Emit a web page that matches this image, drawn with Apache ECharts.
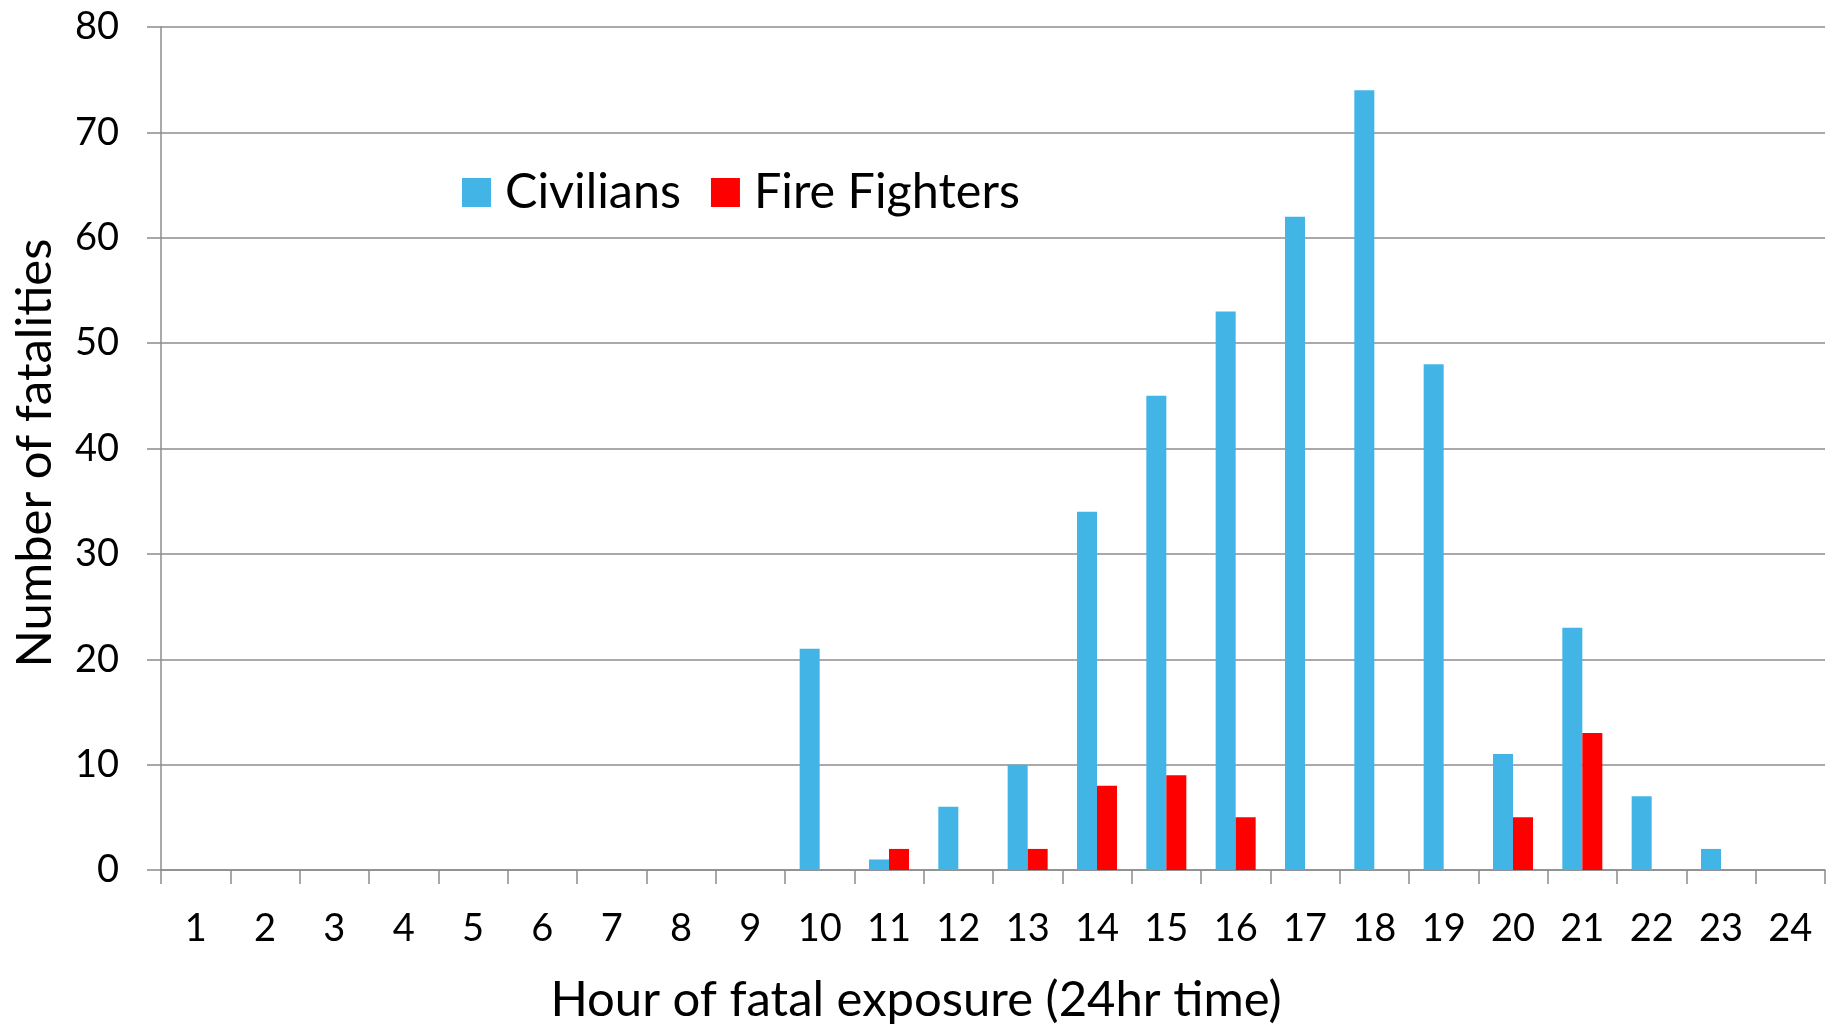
<!DOCTYPE html>
<html>
<head>
<meta charset="utf-8">
<script src="https://cdn.jsdelivr.net/npm/echarts@6/dist/echarts.min.js"></script>
<style>
    html, body { margin: 0; padding: 0; background: #ffffff; }
    #main { width: 1827px; height: 1028px; }
</style>
</head>
<body>
<div id="main"></div>
<script>
// hours 1..24
var hours = ['1', '2', '3', '4', '5', '6', '7', '8', '9', '10', '11', '12',
    '13', '14', '15', '16', '17', '18', '19', '20', '21', '22', '23', '24'];
var civilians = [0, 0, 0, 0, 0, 0, 0, 0, 0, 21, 1, 6, 10, 34, 45, 53, 62, 74, 48, 11, 23, 7, 2, 0];
var fireFighters = [0, 0, 0, 0, 0, 0, 0, 0, 0, 0, 2, 0, 2, 8, 9, 5, 0, 0, 0, 5, 13, 0, 0, 0];

var fontName = 'Lato';
var gridColor = '#8c8c8c';

var chart = echarts.init(document.getElementById('main'));

var option = {
    backgroundColor: '#ffffff',
    animation: false,
    textStyle: { fontFamily: fontName, color: '#000000' },
    grid: { left: 161, top: 27, right: 2, bottom: 158 },
    legend: {
        left: 457,
        top: 163,
        itemWidth: 29,
        itemHeight: 29,
        itemGap: 30,
        icon: 'rect',
        textStyle: { fontFamily: fontName, fontSize: 48.5, color: '#000000', padding: [0, 0, 0, 9] },
        data: ['Civilians', 'Fire Fighters']
    },
    // axis titles, placed like the original (x title centred on the whole picture)
    graphic: [
        {
            type: 'text',
            x: 916,
            y: 1000,
            style: {
                text: 'Hour of fatal exposure (24hr time)',
                font: '49px ' + fontName,
                fill: '#000000',
                align: 'center',
                verticalAlign: 'middle'
            }
        },
        {
            type: 'text',
            x: 35,
            y: 453,
            rotation: Math.PI / 2,
            style: {
                text: 'Number of fatalities',
                font: '49px ' + fontName,
                fill: '#000000',
                align: 'center',
                verticalAlign: 'middle'
            }
        }
    ],
    xAxis: {
        type: 'category',
        data: hours,
        axisLine: { lineStyle: { color: gridColor, width: 1.5 } },
        axisTick: { show: true, length: 14, lineStyle: { color: gridColor, width: 1.5 } },
        axisLabel: { fontFamily: fontName, fontSize: 38, color: '#000000', margin: 40 }
    },
    yAxis: {
        type: 'value',
        min: 0,
        max: 80,
        interval: 10,
        axisLine: { show: true, lineStyle: { color: gridColor, width: 1.5 } },
        axisTick: { show: true, length: 14, lineStyle: { color: gridColor, width: 1.5 } },
        axisLabel: { fontFamily: fontName, fontSize: 38, color: '#000000', margin: 42 },
        splitLine: { show: true, lineStyle: { color: gridColor, width: 1.5 } }
    },
    series: [
        {
            name: 'Civilians',
            type: 'bar',
            data: civilians,
            barWidth: 20,
            barGap: '0%',
            itemStyle: { color: '#42b4e6' }
        },
        {
            name: 'Fire Fighters',
            type: 'bar',
            data: fireFighters,
            barWidth: 20,
            barGap: '0%',
            itemStyle: { color: '#ff0000' }
        }
    ]
};

chart.setOption(option);
</script>
</body>
</html>
